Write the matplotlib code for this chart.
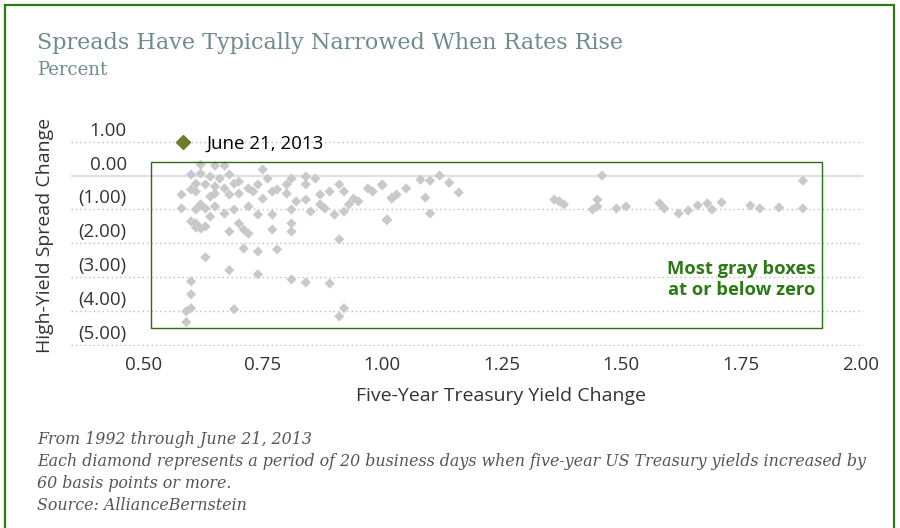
import matplotlib
matplotlib.use("Agg")
import matplotlib.pyplot as plt
from matplotlib.lines import Line2D
from matplotlib.patches import Rectangle
from matplotlib.transforms import ScaledTranslation

# five-year treasury yield change vs high-yield spread change (percent)
yield_change = [
    0.62, 0.65, 0.67, 0.62, 0.64, 0.66, 0.68, 0.61, 0.63, 0.61,
    0.58, 0.60, 0.65, 0.67, 0.69, 0.70, 0.72, 0.73, 0.68, 0.70,
    0.64, 0.65, 0.62, 0.58, 0.61, 0.63, 0.65, 0.67, 0.69, 0.72,
    0.64, 0.60, 0.61, 0.61, 0.62, 0.63, 0.68, 0.70, 0.71, 0.72,
    0.74, 0.75, 0.76, 0.74, 0.77, 0.75, 0.71, 0.74, 0.78, 0.63,
    0.84, 0.86, 0.84, 0.81, 0.80, 0.78, 0.80, 0.82, 0.84, 0.85,
    0.81, 0.77, 0.81, 0.81, 0.77, 0.87, 0.89, 0.88, 0.87, 0.91,
    0.92, 0.94, 0.93, 0.95, 0.90, 0.92, 0.97, 0.98, 1.00, 1.02,
    1.01, 0.91, 0.68, 0.74, 0.60, 0.60, 0.59, 0.60, 0.69, 0.59,
    0.81, 0.84, 0.89, 0.92, 0.91, 1.00, 1.01, 1.02, 1.03, 1.05,
    1.08, 1.10, 1.12, 1.14, 1.16, 1.09, 1.10, 1.36, 1.37, 1.38,
    1.46, 1.45, 1.45, 1.44, 1.49, 1.51, 1.58, 1.59, 1.62, 1.64,
    1.66, 1.68, 1.69, 1.71, 1.77, 1.79, 1.83, 1.88, 1.88,
]
spread_change = [
    0.32, 0.29, 0.29, 0.06, -0.03, -0.09, 0.03, -0.24, -0.26, -0.47,
    -0.56, -0.41, -0.32, -0.38, -0.24, -0.18, -0.38, -0.47, -0.56, -0.53,
    -0.62, -0.53, -0.85, -0.97, -1.00, -0.97, -0.91, -1.12, -1.00, -0.91,
    -1.21, -1.35, -1.41, -1.53, -1.56, -1.50, -1.65, -1.41, -1.59, -1.71,
    -1.15, 0.18, -0.09, -0.26, -0.47, -0.68, -2.15, -2.24, -2.18, -2.41,
    -0.03, -0.09, -0.26, -0.09, -0.26, -0.41, -0.53, -0.76, -0.71, -1.06,
    -1.00, -1.15, -1.41, -1.65, -1.59, -0.56, -0.47, -0.97, -0.85, -0.26,
    -0.47, -0.68, -0.85, -0.76, -1.15, -1.06, -0.38, -0.47, -0.26, -0.68,
    -1.29, -1.88, -2.79, -2.91, -3.12, -3.50, -4.00, -3.91, -3.94, -4.32,
    -3.06, -3.15, -3.18, -3.91, -4.15, -0.29, -1.32, -0.65, -0.56, -0.38,
    -0.12, -0.15, 0.00, -0.21, -0.50, -0.65, -1.12, -0.71, -0.76, -0.85,
    0.00, -0.71, -0.91, -1.00, -0.97, -0.91, -0.82, -0.97, -1.12, -1.03,
    -0.88, -0.82, -1.00, -0.79, -0.88, -0.97, -0.94, -0.97, -0.15,
]
june_2013_x = [0.60]
june_2013_y = [0.03]

x_ticks = [0.50, 0.75, 1.00, 1.25, 1.50, 1.75, 2.00]
y_ticks = [1, 0, -1, -2, -3, -4, -5]
y_tick_labels = ["1.00", "0.00", "(1.00)", "(2.00)", "(3.00)", "(4.00)", "(5.00)"]

title_col = "#6f8b8b"
green = "#2b7a14"
sans = ["Open Sans", "DejaVu Sans"]

fig = plt.figure(figsize=(9, 5.28), dpi=100)
ax = fig.add_axes([0.079, 0.345, 0.880, 0.388])

ax.scatter(yield_change, spread_change, marker="D", s=27, color="#c9c9c9",
           edgecolors="none", zorder=3)
ax.scatter(june_2013_x, june_2013_y, marker="D", s=27, color="#c4c7e2",
           edgecolors="none", zorder=4)

ax.set_xlim(0.349, 2.006)
ax.set_ylim(-5.02, 1.02)
ax.set_xticks(x_ticks)
ax.set_xticklabels(["%.2f" % v for v in x_ticks])
ax.set_yticks(y_ticks)
ax.set_yticklabels(y_tick_labels)
for s in ax.spines.values():
    s.set_visible(False)
ax.tick_params(length=0, labelsize=13.5, labelcolor="#333333")
ax.tick_params(axis="x", pad=7)
ax.tick_params(axis="y", pad=-40)
for lab in ax.get_xticklabels() + ax.get_yticklabels():
    lab.set_family(sans)
for lab in ax.get_yticklabels():
    lab.set_transform(lab.get_transform() + ScaledTranslation(0, 0.13, fig.dpi_scale_trans))

# horizontal guides
for v in y_ticks:
    if v == 0:
        ax.axhline(v, color="#e0e0e0", lw=1.6, zorder=1)
    else:
        ax.axhline(v, color="#bdbdbd", lw=1, ls=(0, (1, 2.2)), zorder=1)

ax.set_xlabel("Five-Year Treasury Yield Change", fontsize=14, family=sans,
              color="#333333")
ax.xaxis.set_label_coords(0.543, -0.20)
fig.text(0.05, 0.555, "High-Yield Spread Change", rotation=90, ha="center",
         va="center", fontsize=14, family=sans, color="#333333")

# legend marker for June 21, 2013
ax.legend(handles=[Line2D([], [], marker="D", ls="none", color="#6b7d2c",
                          markersize=7, label="June 21, 2013")],
          loc="center left", bbox_to_anchor=(0.096, 0.985), frameon=False,
          handletextpad=0.25, prop={"family": sans, "size": 13.5})

# annotation box
ax.add_patch(Rectangle((0.517, -4.5), 1.403, 4.91, fill=False,
                       edgecolor="#2a6e14", lw=1, zorder=5))
ax.text(1.907, -3.07, "Most gray boxes\nat or below zero", ha="right", va="center",
        fontsize=13.2, fontweight="bold", color=green, family=sans,
        linespacing=1.25, zorder=6)

fig.text(0.041, 0.918, "Spreads Have Typically Narrowed When Rates Rise",
         fontsize=16, family="DejaVu Serif", color=title_col, va="center")
fig.text(0.041, 0.867, "Percent", fontsize=13, family="DejaVu Serif",
         color=title_col, va="center")

notes = ["From 1992 through June 21, 2013",
         "Each diamond represents a period of 20 business days when five-year US Treasury yields increased by",
         "60 basis points or more.",
         "Source: AllianceBernstein"]
for i, line in enumerate(notes):
    fig.text(0.041, 1 - (440 + 22 * i) / 528, line, fontsize=11.45,
             family="DejaVu Serif", style="italic", color="#555555", va="center")

# outer green frame
fig.patches.append(Rectangle((0.005, -0.02), 0.988, 1.01, transform=fig.transFigure,
                             fill=False, edgecolor=green, lw=1.6))

fig.savefig("out.png", dpi=100)
